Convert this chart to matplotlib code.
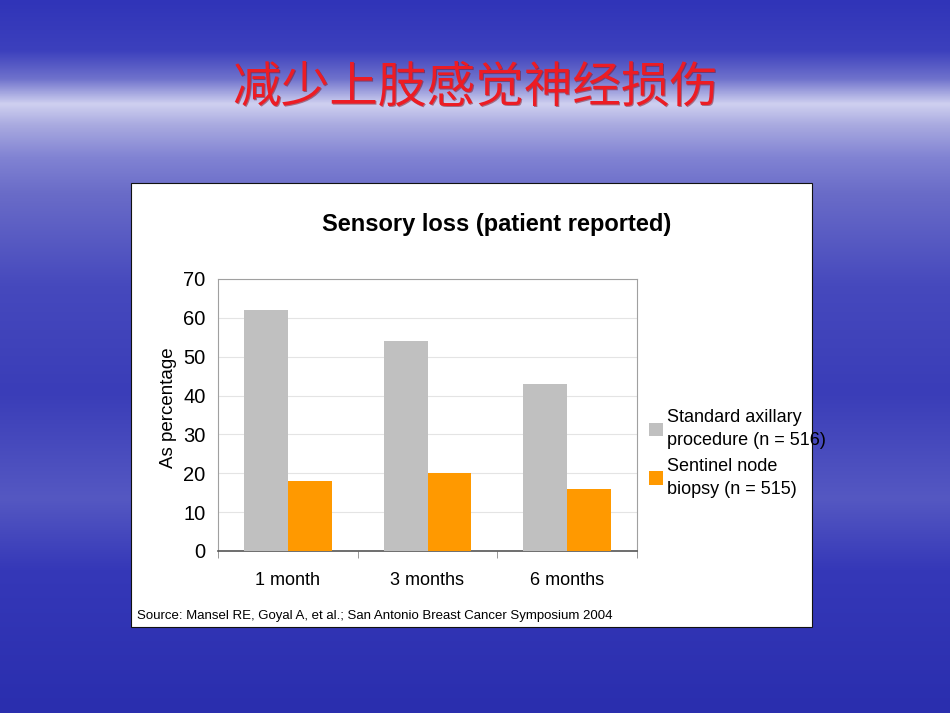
import matplotlib
matplotlib.use("Agg")
import matplotlib.pyplot as plt
import numpy as np
from matplotlib.colors import LinearSegmentedColormap
from matplotlib.patches import Rectangle

plt.rcParams["font.family"] = ["Liberation Sans", "DejaVu Sans"]

SLIDE_TITLE = "减少上肢感觉神经损伤"
CHART_TITLE = "Sensory loss (patient reported)"
CATEGORIES = ["1 month", "3 months", "6 months"]
STANDARD = [62, 54, 43]
SENTINEL = [18, 20, 16]
SERIES_NAMES = ["Standard axillary\nprocedure (n = 516)", "Sentinel node\nbiopsy (n = 515)"]
SOURCE = "Source: Mansel RE, Goyal A, et al.; San Antonio Breast Cancer Symposium 2004"

W, H = 950, 713
fig = plt.figure(figsize=(W / 100, H / 100), dpi=100)

# slide background: vertical blue gradient
bg = fig.add_axes([0, 0, 1, 1])
bg.set_axis_off()
stops = [
    (0.00, "#3034b8"),
    (0.07, "#3c40bd"),
    (0.11, "#6f72cc"),
    (0.145, "#cfd0f0"),
    (0.175, "#a9aae0"),
    (0.22, "#8183d3"),
    (0.27, "#6a6cc8"),
    (0.40, "#4649bd"),
    (0.55, "#3a3db8"),
    (0.70, "#5558c2"),
    (0.80, "#3538b8"),
    (1.00, "#2a2eae"),
]
cmap = LinearSegmentedColormap.from_list("slide", stops, N=1024)
grad = np.linspace(0, 1, 1400).reshape(-1, 1)
bg.imshow(grad, aspect="auto", cmap=cmap, extent=[0, 1, 0, 1], origin="upper",
          interpolation="bilinear")
bg.set_xlim(0, 1)
bg.set_ylim(0, 1)

# white chart panel
bg.add_patch(Rectangle((131 / W, 1 - 627 / H), (812 - 131) / W, (627 - 183) / H,
                       facecolor="white", edgecolor="#111111", linewidth=0.8, zorder=2))

# slide title
fig.text(476 / W, 1 - 89 / H, SLIDE_TITLE, ha="center", va="center",
         fontsize=35, color="#7a1020", family=["Noto Sans CJK SC"],
         fontweight="light", alpha=0.5)
fig.text(475 / W, 1 - 88 / H, SLIDE_TITLE, ha="center", va="center",
         fontsize=35, color="#ec1c24", family=["Noto Sans CJK SC"], fontweight="light")

# chart
ax = fig.add_axes([218 / W, 1 - 551 / H, (637 - 218) / W, (551 - 279) / H])
ax.set_facecolor("white")
x = np.arange(len(CATEGORIES))
bw = 0.315
ax.bar(x - bw / 2, STANDARD, bw, color="#c0c0c0", label=SERIES_NAMES[0], zorder=3)
ax.bar(x + bw / 2, SENTINEL, bw, color="#ff9900", label=SERIES_NAMES[1], zorder=3)
ax.set_xlim(-0.5, 2.5)
ax.set_ylim(0, 70)
ax.set_yticks(range(0, 71, 10))
ax.yaxis.grid(True, color="#e4e4e4", linewidth=0.8, zorder=0)
ax.tick_params(axis="y", labelsize=14.5, length=0, pad=9)
ax.set_xticks(x)
ax.set_xticklabels(CATEGORIES)
ax.tick_params(axis="x", labelsize=13, length=0, pad=15)
ax.set_xticks([0.5, 1.5, 2.5, -0.5], minor=True)
ax.tick_params(axis="x", which="minor", length=5, color="#888888")
for s in ["top", "right", "left"]:
    ax.spines[s].set_color("#a0a0a0")
    ax.spines[s].set_linewidth(0.8)
ax.spines["bottom"].set_color("#555555")
ax.spines["bottom"].set_linewidth(1.2)
ax.set_ylabel("As percentage", fontsize=13.5)
ax.yaxis.set_label_coords(-0.098, 0.526)

fig.text(497 / W, 1 - 224 / H, CHART_TITLE, ha="center", va="center",
         fontsize=17, fontweight="bold", color="black")

leg = ax.legend(loc="upper left", bbox_to_anchor=(649 / W, 1 - 409 / H),
                bbox_transform=fig.transFigure, frameon=False, fontsize=13,
                handlelength=0.75, handleheight=0.75, handletextpad=0.25,
                labelspacing=0.5, borderaxespad=0, borderpad=0)
for t in leg.get_texts():
    t.set_linespacing(1.45)

fig.text(137 / W, 1 - 616 / H, SOURCE, ha="left", va="center", fontsize=9.5, color="black")

fig.savefig("out.png", dpi=100)
